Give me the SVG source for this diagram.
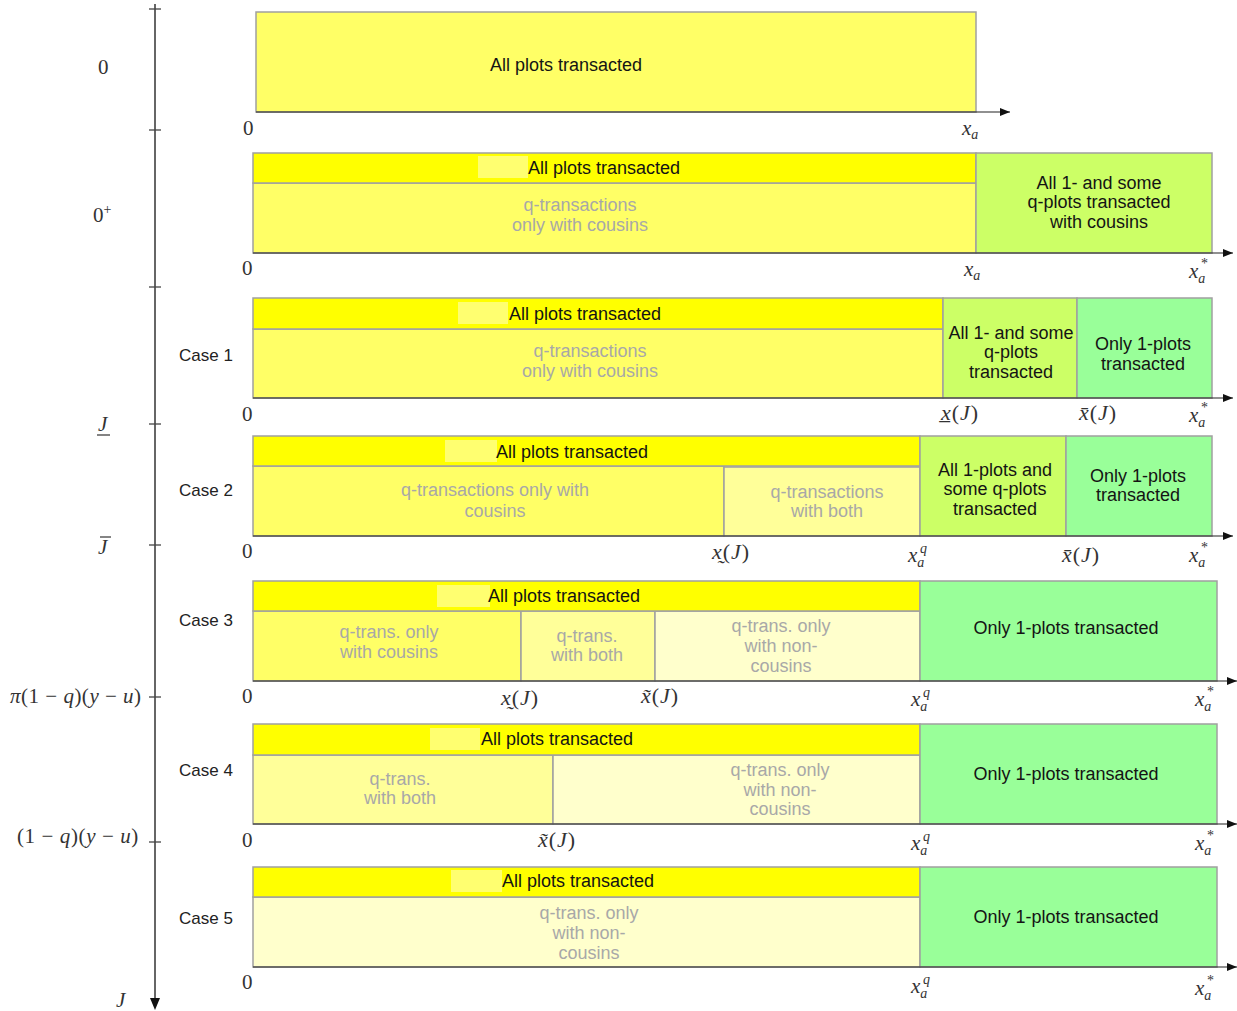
<svg xmlns="http://www.w3.org/2000/svg" width="1237" height="1011" viewBox="0 0 1237 1011">
<defs>
<marker id="ah" markerWidth="10" markerHeight="8" refX="10" refY="4" orient="auto" markerUnits="userSpaceOnUse">
<path d="M0,0 L10,4 L0,8 Z" fill="#111"/>
</marker>
<style>
.box{stroke:#a0a0a0;stroke-width:1.5}
.y0{fill:#ffff00}.y1{fill:#ffff66}.y2{fill:#ffff99}.y3{fill:#ffffcc}.yg{fill:#ccff66}.gr{fill:#99ff99}
.hl{fill:#ffff70}
.t{font-family:"Liberation Sans",Arial,sans-serif;font-size:18px;fill:#141414;text-anchor:middle}
.g{font-family:"Liberation Sans",Arial,sans-serif;font-size:18px;fill:#a8a8a8;text-anchor:middle}
.case{font-family:"Liberation Sans",Arial,sans-serif;font-size:17px;fill:#222}
.m{font-family:"Liberation Serif","DejaVu Serif",serif;font-size:21px;fill:#333}
.xj{font-size:22px;letter-spacing:1px}
.c{text-anchor:middle}
.i{font-style:italic}
.s{font-size:14px}
.ax{stroke:#222;stroke-width:1.2;fill:none}
.vax{stroke:#666;stroke-width:2;fill:none}
.tick{stroke:#444;stroke-width:1.3}
</style>
</defs>

<g id="vertical-axis">
<line class="vax" x1="155" y1="4" x2="155" y2="1000"/>
<path d="M150,998 L160,998 L155,1010 Z" fill="#111"/>
<line class="tick" x1="149" y1="9" x2="161" y2="9"/>
<line class="tick" x1="149" y1="130" x2="161" y2="130"/>
<line class="tick" x1="149" y1="287" x2="161" y2="287"/>
<line class="tick" x1="149" y1="424" x2="161" y2="424"/>
<line class="tick" x1="149" y1="545" x2="161" y2="545"/>
<line class="tick" x1="149" y1="697" x2="161" y2="697"/>
<line class="tick" x1="149" y1="842" x2="161" y2="842"/>
<text class="m" x="98" y="74">0</text>
<text class="m" x="93" y="222">0<tspan class="s" dy="-8">+</tspan></text>
<text class="m i" x="98" y="431">J</text>
<line x1="97" y1="435" x2="110" y2="435" stroke="#333" stroke-width="1.2"/>
<text class="m i" x="98" y="554">J</text>
<line x1="100" y1="537" x2="111" y2="537" stroke="#333" stroke-width="1.2"/>
<text class="m" x="10" y="703" letter-spacing="0.5"><tspan class="i">π</tspan>(1 − <tspan class="i">q</tspan>)(<tspan class="i">y</tspan> − <tspan class="i">u</tspan>)</text>
<text class="m" x="17" y="843" letter-spacing="0.6">(1 − <tspan class="i">q</tspan>)(<tspan class="i">y</tspan> − <tspan class="i">u</tspan>)</text>
<text class="m i" x="116" y="1007">J</text>
</g>

<g id="case-labels">
<text class="case" x="179" y="361">Case 1</text>
<text class="case" x="179" y="496">Case 2</text>
<text class="case" x="179" y="626">Case 3</text>
<text class="case" x="179" y="776">Case 4</text>
<text class="case" x="179" y="924">Case 5</text>
</g>

<g id="row-0">
<rect class="box y1" x="256" y="12" width="720" height="100"/>
<text class="t" x="566" y="71">All plots transacted</text>
</g>

<g id="row-0plus">
<rect class="box y1" x="253" y="183" width="723" height="70"/>
<rect class="box y0" x="253" y="153" width="723" height="30"/>
<rect class="hl" x="478" y="156" width="50" height="22"/>
<text class="t" x="604" y="174">All plots transacted</text>
<text class="g" x="580" y="211">q-transactions</text>
<text class="g" x="580" y="231">only with cousins</text>
<rect class="box yg" x="976" y="153" width="236" height="100"/>
<text class="t" x="1099" y="189">All 1- and some</text>
<text class="t" x="1099" y="208">q-plots transacted</text>
<text class="t" x="1099" y="228">with cousins</text>
</g>

<g id="case-1">
<rect class="box y1" x="253" y="329" width="690" height="69"/>
<rect class="box y0" x="253" y="298" width="690" height="31"/>
<rect class="hl" x="458" y="302" width="50" height="22"/>
<text class="t" x="585" y="320">All plots transacted</text>
<text class="g" x="590" y="357">q-transactions</text>
<text class="g" x="590" y="377">only with cousins</text>
<rect class="box yg" x="943" y="298" width="134" height="100"/>
<text class="t" x="1011" y="339">All 1- and some</text>
<text class="t" x="1011" y="358">q-plots</text>
<text class="t" x="1011" y="378">transacted</text>
<rect class="box gr" x="1077" y="298" width="135" height="100"/>
<text class="t" x="1143" y="350">Only 1-plots</text>
<text class="t" x="1143" y="370">transacted</text>
</g>

<g id="case-2">
<rect class="box y1" x="253" y="466" width="471" height="70"/>
<rect class="box y2" x="724" y="467" width="196" height="69"/>
<rect class="box y0" x="253" y="436" width="667" height="30"/>
<rect class="hl" x="445" y="440" width="52" height="22"/>
<text class="t" x="572" y="458">All plots transacted</text>
<text class="g" x="495" y="496">q-transactions only with</text>
<text class="g" x="495" y="517">cousins</text>
<text class="g" x="827" y="498">q-transactions</text>
<text class="g" x="827" y="517">with both</text>
<rect class="box yg" x="920" y="436" width="146" height="100"/>
<text class="t" x="995" y="476">All 1-plots and</text>
<text class="t" x="995" y="495">some q-plots</text>
<text class="t" x="995" y="515">transacted</text>
<rect class="box gr" x="1066" y="436" width="146" height="100"/>
<text class="t" x="1138" y="482">Only 1-plots</text>
<text class="t" x="1138" y="501">transacted</text>
</g>

<g id="case-3">
<rect class="box y1" x="253" y="611" width="268" height="70"/>
<rect class="box y2" x="521" y="611" width="134" height="70"/>
<rect class="box y3" x="655" y="611" width="265" height="70"/>
<rect class="box y0" x="253" y="581" width="667" height="30"/>
<rect class="hl" x="437" y="585" width="53" height="22"/>
<text class="t" x="564" y="602">All plots transacted</text>
<text class="g" x="389" y="638">q-trans. only</text>
<text class="g" x="389" y="658">with cousins</text>
<text class="g" x="587" y="642">q-trans.</text>
<text class="g" x="587" y="661">with both</text>
<text class="g" x="781" y="632">q-trans. only</text>
<text class="g" x="781" y="652">with non-</text>
<text class="g" x="781" y="672">cousins</text>
<rect class="box gr" x="920" y="581" width="297" height="100"/>
<text class="t" x="1066" y="634">Only 1-plots transacted</text>
</g>

<g id="case-4">
<rect class="box y2" x="253" y="755" width="300" height="69"/>
<rect class="box y3" x="553" y="755" width="367" height="69"/>
<rect class="box y0" x="253" y="724" width="667" height="31"/>
<rect class="hl" x="430" y="728" width="50" height="22"/>
<text class="t" x="557" y="745">All plots transacted</text>
<text class="g" x="400" y="785">q-trans.</text>
<text class="g" x="400" y="804">with both</text>
<text class="g" x="780" y="776">q-trans. only</text>
<text class="g" x="780" y="796">with non-</text>
<text class="g" x="780" y="815">cousins</text>
<rect class="box gr" x="920" y="724" width="297" height="100"/>
<text class="t" x="1066" y="780">Only 1-plots transacted</text>
</g>

<g id="case-5">
<rect class="box y3" x="253" y="897" width="667" height="70"/>
<rect class="box y0" x="253" y="867" width="667" height="30"/>
<rect class="hl" x="451" y="870" width="51" height="22"/>
<text class="t" x="578" y="887">All plots transacted</text>
<text class="g" x="589" y="919">q-trans. only</text>
<text class="g" x="589" y="939">with non-</text>
<text class="g" x="589" y="959">cousins</text>
<rect class="box gr" x="920" y="867" width="297" height="100"/>
<text class="t" x="1066" y="923">Only 1-plots transacted</text>
</g>

<g id="connectors">
<line class="ax" x1="256" y1="112" x2="1010" y2="112" marker-end="url(#ah)"/>
<line class="ax" x1="253" y1="253" x2="1233" y2="253" marker-end="url(#ah)"/>
<line class="ax" x1="253" y1="398" x2="1233" y2="398" marker-end="url(#ah)"/>
<line class="ax" x1="253" y1="536" x2="1233" y2="536" marker-end="url(#ah)"/>
<line class="ax" x1="253" y1="681" x2="1237" y2="681" marker-end="url(#ah)"/>
<line class="ax" x1="253" y1="824" x2="1237" y2="824" marker-end="url(#ah)"/>
<line class="ax" x1="253" y1="967" x2="1237" y2="967" marker-end="url(#ah)"/>
</g>

<g id="axis-labels">
<text class="m" x="243" y="135">0</text>
<text class="m i" x="962" y="135">x<tspan class="s" dy="4">a</tspan></text>

<text class="m" x="242" y="275">0</text>
<text class="m i" x="964" y="276">x<tspan class="s" dy="4">a</tspan></text>
<text class="m i" x="1189" y="278">x<tspan class="s" dy="5">a</tspan></text>
<text class="m s" x="1201" y="268">*</text>

<text class="m" x="242" y="421">0</text>
<text class="m c xj" x="960" y="420"><tspan class="i">x&#818;</tspan>(<tspan class="i">J</tspan>)</text>
<text class="m c xj" x="1098" y="420"><tspan class="i">x&#772;</tspan>(<tspan class="i">J</tspan>)</text>
<text class="m i" x="1189" y="422">x<tspan class="s" dy="5">a</tspan></text>
<text class="m s" x="1201" y="412">*</text>

<text class="m" x="242" y="558">0</text>
<text class="m c xj" x="731" y="559"><tspan class="i">x&#816;</tspan>(<tspan class="i">J</tspan>)</text>
<text class="m i" x="908" y="562">x<tspan class="s" dy="5">a</tspan></text>
<text class="m s i" x="920" y="553">q</text>
<text class="m c xj" x="1081" y="562"><tspan class="i">x&#772;</tspan>(<tspan class="i">J</tspan>)</text>
<text class="m i" x="1189" y="562">x<tspan class="s" dy="5">a</tspan></text>
<text class="m s" x="1201" y="552">*</text>

<text class="m" x="242" y="703">0</text>
<text class="m c xj" x="520" y="705"><tspan class="i">x&#816;</tspan>(<tspan class="i">J</tspan>)</text>
<text class="m c xj" x="660" y="703"><tspan class="i">x&#771;</tspan>(<tspan class="i">J</tspan>)</text>
<text class="m i" x="911" y="706">x<tspan class="s" dy="5">a</tspan></text>
<text class="m s i" x="923" y="697">q</text>
<text class="m i" x="1195" y="706">x<tspan class="s" dy="5">a</tspan></text>
<text class="m s" x="1207" y="696">*</text>

<text class="m" x="242" y="847">0</text>
<text class="m c xj" x="557" y="847"><tspan class="i">x&#771;</tspan>(<tspan class="i">J</tspan>)</text>
<text class="m i" x="911" y="850">x<tspan class="s" dy="5">a</tspan></text>
<text class="m s i" x="923" y="841">q</text>
<text class="m i" x="1195" y="850">x<tspan class="s" dy="5">a</tspan></text>
<text class="m s" x="1207" y="840">*</text>

<text class="m" x="242" y="989">0</text>
<text class="m i" x="911" y="993">x<tspan class="s" dy="5">a</tspan></text>
<text class="m s i" x="923" y="984">q</text>
<text class="m i" x="1195" y="995">x<tspan class="s" dy="5">a</tspan></text>
<text class="m s" x="1207" y="985">*</text>
</g>
</svg>
